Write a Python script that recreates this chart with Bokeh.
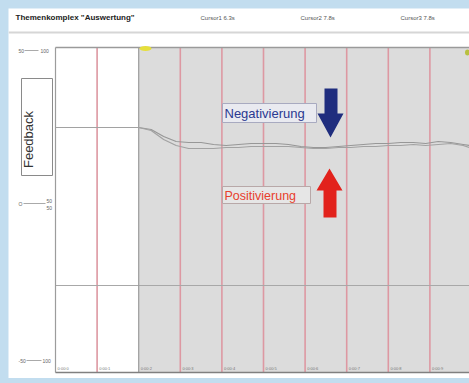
import re
import numpy as np
from bokeh.plotting import figure
from bokeh.models import Range1d
from bokeh.core.properties import value
from bokeh.embed import file_html
from bokeh.resources import INLINE

# ---------------- data ----------------
times = [0.0, 2.0, 2.3, 2.6, 2.9, 3.2, 3.5, 3.8, 4.1, 4.4, 4.7, 5.0, 5.3, 5.6,
         5.9, 6.2, 6.5, 6.8, 7.1, 7.4, 7.7, 8.0, 8.3, 8.6, 8.9, 9.2, 9.5, 9.8, 9.95]
trace_a = [0, 0, -2, -9, -14, -15, -15, -17, -18, -17, -16, -16, -16, -17,
           -19, -20, -20, -19, -18, -17, -16, -16, -15, -15, -16, -14, -15, -17, -18]
trace_b = [0, 0, -3, -12, -18, -21, -21, -21, -20, -20, -19, -19, -19, -19,
           -20, -21, -21, -20, -20, -19, -19, -18, -18, -17, -18, -17, -16, -18, -20]
marker_times = [1, 3, 4, 5, 6, 7, 8, 9]
stim_start = 2.0
ref_levels = [0, -158]
x_tick_times = [0, 1, 2, 3, 4, 5, 6, 7, 8, 9]
x_tick_labels = ["0:00:0", "0:00:1", "0:00:2", "0:00:3", "0:00:4",
                 "0:00:5", "0:00:6", "0:00:7", "0:00:8", "0:00:9"]
title_text = 'Themenkomplex "Auswertung"'
cursor_texts = ["Cursor1   6.3s", "Cursor2   7.8s", "Cursor3   7.8s"]

# ---------------- layout helpers (screen px -> data) ----------------
PX_PER_S = 41.6
def X(sx):
    return (sx - 55) / PX_PER_S
def Y(sy):
    return 127 - sy

W, H = 461, 370
p = figure(width=W, height=H, output_backend="svg", toolbar_location=None,
           x_range=Range1d(X(8), X(469)), y_range=Range1d(Y(378), Y(8)),
           min_border=0, outline_line_color=None)
p.axis.visible = False
p.grid.visible = False
p.background_fill_color = "white"
p.border_fill_color = "white"

FONT = value("Liberation Sans")
t_end = X(469)
top, bot = Y(47), Y(372)

# grey stimulus region
p.quad(left=[stim_start], right=[t_end], bottom=[bot], top=[top],
       fill_color="#dcdcdc", line_color=None)

# red marker lines
p.segment(x0=marker_times, x1=marker_times, y0=[top]*len(marker_times),
          y1=[bot]*len(marker_times), line_color="#dd98a2", line_width=1.6)

# reference horizontal lines
p.segment(x0=[0, 0], x1=[stim_start, t_end], y0=ref_levels, y1=ref_levels,
          line_color="#a8a8a8", line_width=1)

# frame lines
p.segment(x0=[0, stim_start], x1=[0, stim_start], y0=[top, top], y1=[bot, bot],
          line_color="#9c9c9c", line_width=1.2)
p.segment(x0=[0], x1=[t_end], y0=[top], y1=[top], line_color="#9a9a9a", line_width=1.5)
p.segment(x0=[0], x1=[t_end], y0=[bot], y1=[bot], line_color="#808080", line_width=1.5)

# traces
p.line(times, trace_a, line_color="#979797", line_width=1.2)
p.line(times, trace_b, line_color="#a2a2a2", line_width=1.2)

# yellow marks
p.ellipse(x=[X(145)], y=[Y(48)], width=12 / PX_PER_S, height=5,
          fill_color="#e6df3c", line_color=None)
p.ellipse(x=[X(467)], y=[Y(52)], width=5 / PX_PER_S, height=6,
          fill_color="#b8c040", line_color=None)

# header
p.text(x=[X(15)], y=[Y(17)], text=[title_text], text_font=FONT,
       text_font_size="8px", text_font_style="bold", text_color="#222222",
       text_baseline="middle")
p.text(x=[X(200), X(300), X(400)], y=[Y(17)] * 3, text=cursor_texts,
       text_font=FONT, text_font_size="6px", text_color="#555555",
       text_baseline="middle")
p.segment(x0=[X(8)], x1=[X(469)], y0=[Y(32)], y1=[Y(32)],
          line_color="#d6d6d6", line_width=2)

# feedback box
p.quad(left=[X(21)], right=[X(52)], bottom=[Y(175)], top=[Y(78)],
       fill_color="white", line_color="#8a8a8a", line_width=1)
p.text(x=[X(28)], y=[Y(139)], text=["Feedback"], angle=np.pi / 2,
       text_font=FONT, text_font_size="13px", text_color="#333333",
       text_align="center", text_baseline="middle")

# left scale labels
p.text(x=[X(18), X(40), X(18), X(46), X(46), X(18), X(42)],
       y=[Y(50), Y(50), Y(203), Y(200), Y(207), Y(360), Y(360)],
       text=["50", "100", "O", "50", "50", "-50", "100"],
       text_font=FONT, text_font_size="5px", text_color="#666666",
       text_baseline="middle")
p.segment(x0=[X(24), X(23), X(26)], x1=[X(38), X(45), X(41)],
          y0=[Y(50), Y(203), Y(360)], y1=[Y(50), Y(203), Y(360)],
          line_color="#aaaaaa", line_width=1)

# bottom tick labels
p.text(x=[t + 0.05 for t in x_tick_times], y=[Y(368)] * len(x_tick_times),
       text=x_tick_labels, text_font=FONT, text_font_size="4px",
       text_color="#777777", text_baseline="middle")

# Negativierung label + arrow
p.quad(left=[X(222)], right=[X(316)], bottom=[Y(122)], top=[Y(103)],
       fill_color="#e9eaf0", line_color="#a8aac0", line_width=1)
p.text(x=[X(224)], y=[Y(112.5)], text=["Negativierung"], text_font=FONT,
       text_font_size="13px", text_color="#2b3990", text_baseline="middle")
p.patch(x=[X(324), X(337), X(337), X(343), X(330), X(317), X(324)],
        y=[Y(88), Y(88), Y(113), Y(113), Y(137), Y(113), Y(113)],
        fill_color="#1f2d7e", line_color=None)

# Positivierung label + arrow
p.quad(left=[X(222)], right=[X(310)], bottom=[Y(203)], top=[Y(186)],
       fill_color="#e6e6e6", line_color="#b8a8a8", line_width=1)
p.text(x=[X(224)], y=[Y(195)], text=["Positivierung"], text_font=FONT,
       text_font_size="12.5px", text_color="#e8402c", text_baseline="middle")
p.patch(x=[X(323), X(336), X(336), X(342), X(329), X(316), X(323)],
        y=[Y(217), Y(217), Y(190), Y(190), Y(168), Y(190), Y(190)],
        fill_color="#e2221c", line_color=None)

html = file_html(p, INLINE)
style = ("<style>html,body{background:#c2ddef !important;padding:0;overflow:hidden}"
         "body{margin:8px 0 0 8px !important}</style>")
html = re.sub(r"</head>", style + "</head>", html, count=1)
open("out.html", "w").write(html)
